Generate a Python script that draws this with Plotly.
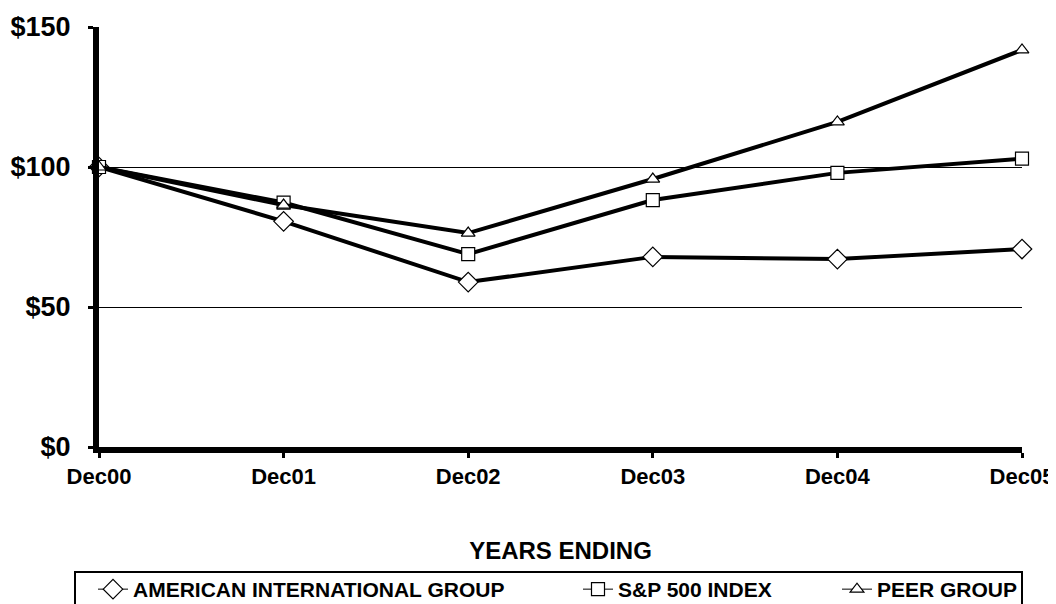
import plotly.graph_objects as go

years = ["Dec00", "Dec01", "Dec02", "Dec03", "Dec04", "Dec05"]
aig = [100, 80.6, 58.9, 67.9, 67.1, 70.7]
sp500 = [100, 87.3, 68.9, 88.2, 97.9, 103.0]
peer = [100, 86.4, 76.4, 95.7, 116.1, 141.8]
y_ticks = [0, 50, 100, 150]
y_labels = ["$0", "$50", "$100", "$150"]

FONT = "Liberation Sans, Arial, sans-serif"
OFF = 8  # page body margin
W, H = 1056 - OFF, 604 - OFF
L, T = 99 - OFF, 27 - OFF
R = W - (1022 - OFF)
B = H - (447 - OFF)
pw, ph = W - L - R, H - T - B

def px_x(p):
    return (p - OFF - L) / pw

def px_y(p):
    return (H - B - (p - OFF)) / ph

fig = go.Figure()
series = [
    ("AMERICAN INTERNATIONAL GROUP", aig, "diamond", 15, "legend"),
    ("S&P 500 INDEX", sp500, "square", 13, "legend2"),
    ("PEER GROUP", peer, "triangle-up", 12, "legend3"),
]
for name, vals, sym, size, leg in series:
    mk = dict(symbol=sym, size=size, color="white", line=dict(color="black", width=1.2))
    fig.add_trace(go.Scatter(
        x=years, y=vals, name=name, mode="lines+markers",
        line=dict(color="black", width=4), marker=mk,
        cliponaxis=False, showlegend=False,
    ))
    # legend entry (thin line key as in the reference)
    fig.add_trace(go.Scatter(
        x=[None], y=[None], name=name, mode="lines+markers",
        line=dict(color="black", width=1), marker=mk,
        showlegend=True, legend=leg,
    ))

leg_common = dict(
    orientation="h", yanchor="top", xanchor="left",
    font=dict(family=FONT, size=21, color="black", weight="bold"),
    bgcolor="rgba(0,0,0,0)", borderwidth=0, itemwidth=30,
)
fig.update_layout(
    width=W, height=H,
    margin=dict(l=L, r=R, t=T, b=B, autoexpand=False),
    paper_bgcolor="white", plot_bgcolor="white",
    font=dict(family=FONT, color="black"),
    showlegend=True,
    legend=dict(x=px_x(93), y=px_y(569), **leg_common),
    legend2=dict(x=px_x(578), y=px_y(569), **leg_common),
    legend3=dict(x=px_x(837), y=px_y(569), **leg_common),
    xaxis=dict(
        type="category", range=[0, 5],
        showline=True, linecolor="black", linewidth=6,
        ticks="outside", ticklen=5, tickwidth=3, tickcolor="black",
        showgrid=False, zeroline=False,
        tickfont=dict(family=FONT, size=22, color="black", weight="bold"),
        title=dict(text="YEARS ENDING", standoff=56,
                   font=dict(family=FONT, size=24, color="black", weight="bold")),
    ),
    yaxis=dict(
        range=[0, 150], tickvals=y_ticks, ticktext=y_labels,
        showline=True, linecolor="black", linewidth=6,
        ticks="outside", ticklen=5, tickwidth=3, tickcolor="black",
        showgrid=True, gridcolor="black", gridwidth=1, zeroline=False,
        ticklabelstandoff=12,
        tickfont=dict(family=FONT, size=27, color="black", weight="bold"),
    ),
    shapes=[dict(type="rect", xref="paper", yref="paper",
                 x0=px_x(75), x1=px_x(1022), y0=px_y(572), y1=px_y(612),
                 line=dict(color="black", width=2), fillcolor="rgba(0,0,0,0)",
                 layer="below")],
)
fig.write_html("out.html")
